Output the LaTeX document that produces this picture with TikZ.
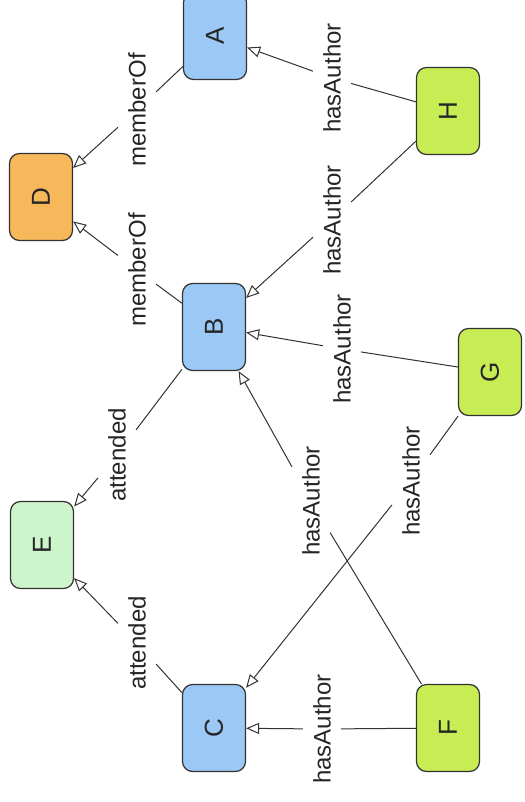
\documentclass[tikz,border=0pt]{standalone}
\usepackage{fontspec}
\setmainfont{Liberation Sans}
\usetikzlibrary{arrows.meta}
\definecolor{nblue}{RGB}{156,200,245}
\definecolor{norange}{RGB}{247,184,92}
\definecolor{ngreen}{RGB}{205,244,202}
\definecolor{nyellow}{RGB}{200,236,84}
\definecolor{lncol}{RGB}{50,50,50}
\tikzset{
  ent/.style={draw=lncol, line width=0.6pt, rounded corners=5pt, rotate=90,
    minimum width=43.5pt, minimum height=31.5pt, inner sep=0pt,
    font=\fontsize{13}{15}\selectfont, text=black!85},
  blue/.style={ent, fill=nblue},
  orange/.style={ent, fill=norange},
  green/.style={ent, fill=ngreen},
  yellow/.style={ent, fill=nyellow},
  lbl/.style={rotate=90, fill=white, inner xsep=4pt, inner ysep=5pt, text depth=0pt,
    font=\fontsize{12}{14}\selectfont, text=black!85},
  link/.style={draw=lncol, line width=0.5pt},
  arr/.style={link, -{Triangle[fill=white, length=6.5pt, width=5.5pt]}},
}
\begin{document}
\begin{tikzpicture}[x=0.5pt, y=-0.5pt]
\useasboundingbox (0,0) rectangle (524,802);
% entity nodes
\node[blue]   (A) at (215,36)  {A};
\node[orange] (D) at (41,197)  {D};
\node[yellow] (H) at (448,111) {H};
\node[blue]   (B) at (214,327) {B};
\node[yellow] (G) at (490,372) {G};
\node[green]  (E) at (42,545)  {E};
\node[blue]   (C) at (214,728) {C};
\node[yellow] (F) at (448,728) {F};
% edge labels
\node[lbl] (lAD) at (137,110) {memberOf};
\node[lbl] (lBD) at (137,270) {memberOf};
\node[lbl] (lHA) at (332,78)  {hasAuthor};
\node[lbl] (lHB) at (332,220) {hasAuthor};
\node[lbl] (lGB) at (342,349) {hasAuthor};
\node[lbl] (lBE) at (117,455) {attended};
\node[lbl] (lCE) at (137,643) {attended};
\node[lbl] (lFB) at (311,501) {hasAuthor};
\node[lbl] (lGC) at (411,481) {hasAuthor};
\node[lbl] (lFC) at (322,729) {hasAuthor};
% connectors
\draw[link] (A) -- (lAD); \draw[arr] (lAD) -- (D);
\draw[link] (B) -- (lBD); \draw[arr] (lBD) -- (D);
\draw[link] (H) -- (lHA); \draw[arr] (lHA) -- (A);
\draw[link] (H) -- (lHB); \draw[arr] (lHB) -- (B);
\draw[link] (G) -- (lGB); \draw[arr] (lGB) -- (B);
\draw[link] (B) -- (lBE); \draw[arr] (lBE) -- (E);
\draw[link] (C) -- (lCE); \draw[arr] (lCE) -- (E);
\draw[link] (F) -- (lFB); \draw[arr] (lFB) -- (B);
\draw[link] (G) -- (lGC); \draw[arr] (lGC) -- (C);
\draw[link] (F) -- (lFC); \draw[arr] (lFC) -- (C);
\end{tikzpicture}
\end{document}
